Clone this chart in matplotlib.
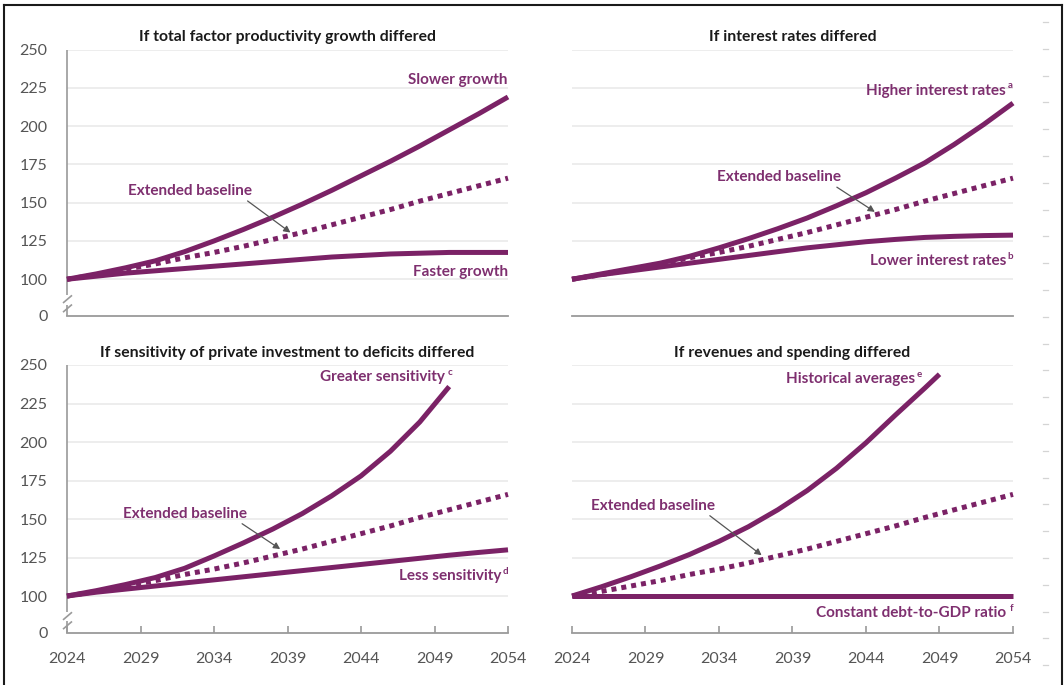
import numpy as np
import matplotlib
matplotlib.use("Agg")
import matplotlib.pyplot as plt
from matplotlib.lines import Line2D

plt.rcParams['font.family'] = ['Lato', 'DejaVu Sans']

# ---------------- data (index, 2024 = 100) ----------------
years_even = [2024, 2026, 2028, 2030, 2032, 2034, 2036, 2038, 2040,
              2042, 2044, 2046, 2048, 2050, 2052, 2054]

extended_baseline = [100, 103, 106.5, 110, 114, 117.5, 121.5, 126, 130.5,
                     135.5, 140.5, 145.5, 151, 156, 161, 166]

# total factor productivity
tfp_slower = [100, 103.5, 107.5, 112, 118, 125, 132.5, 140.5, 149,
              158, 167.5, 177, 187, 197.5, 208, 219]
tfp_faster = [100, 102, 104, 105.5, 107, 108.5, 110, 111.5, 113,
              114.5, 115.5, 116.5, 117, 117.5, 117.5, 117.5]

# interest rates
rate_higher = [100, 103.5, 107, 110.5, 115, 120.5, 126.5, 133, 140,
               148, 156.5, 166, 176, 188, 201, 215]
rate_lower = [100, 103, 105.5, 108, 110.5, 113, 115.5, 118, 120.5,
              122.5, 124.5, 126, 127.3, 128, 128.5, 128.8]

# sensitivity of private investment to deficits
sens_years = [2024, 2026, 2028, 2030, 2032, 2034, 2036, 2038, 2040,
              2042, 2044, 2046, 2048, 2050]
sens_greater = [100, 103.5, 107.5, 112, 118, 126, 134.5, 143.5, 153.5,
                165, 178, 194, 213, 236]
sens_less = [100, 102.5, 104.5, 106.5, 108.5, 110.5, 112.5, 114.5, 116.5,
             118.5, 120.5, 122.5, 124.5, 126.5, 128.3, 130]

# revenues and spending
hist_years = [2024, 2026, 2028, 2030, 2032, 2034, 2036, 2038, 2040,
              2042, 2044, 2046, 2048, 2049]
hist_averages = [100, 106, 112.5, 119.5, 127, 135.5, 145, 156, 168.5,
                 183, 199.5, 217.5, 235, 244]
const_ratio = [100] * len(years_even)

x_ticks = [2024, 2029, 2034, 2039, 2044, 2049, 2054]
y_ticks = [100, 125, 150, 175, 200, 225, 250]
y_zero_pos = 76   # where the "0" tick sits below the axis break

# ---------------- styling ----------------
PURPLE = '#7B2266'
LABEL = '#7E2F6F'
GRID = '#e8e8e8'
AXIS = '#9a9a9a'
TICKTXT = '#555555'
LW = 3.6

W, H = 1064, 685
fig = plt.figure(figsize=(W / 100, H / 100), dpi=100)


def px_axes(x0, y_top, x1, y_bot):
    return fig.add_axes([x0 / W, 1 - y_bot / H, (x1 - x0) / W, (y_bot - y_top) / H])


def setup(ax, title, left_labels, bottom_labels):
    ax.set_xlim(2024, 2054)
    ax.set_ylim(y_zero_pos, 250)
    for s in ['top', 'right', 'left']:
        ax.spines[s].set_visible(False)
    ax.spines['bottom'].set_color(AXIS)
    ax.spines['bottom'].set_linewidth(1.3)
    for v in y_ticks:
        ax.axhline(v, color=GRID, lw=1.1, zorder=0)
    ax.set_yticks([y_zero_pos] + y_ticks)
    ax.set_yticklabels(['0'] + [str(v) for v in y_ticks])
    ax.tick_params(axis='y', length=0, pad=14, labelsize=11.5, labelcolor=TICKTXT,
                   labelleft=left_labels)
    ax.set_xticks(x_ticks)
    ax.set_xticklabels([str(v) for v in x_ticks])
    if bottom_labels:
        ax.tick_params(axis='x', direction='in', length=5, width=1.2, color=AXIS,
                       pad=14, labelsize=11.5, labelcolor=TICKTXT)
    else:
        ax.tick_params(axis='x', length=0, labelbottom=False)
    ax.set_title(title, fontsize=11.3, fontweight='bold', color='#1a1a1a', pad=6)
    if left_labels:
        # broken left axis
        tr = ax.get_yaxis_transform()
        kw = dict(transform=tr, color=AXIS, lw=1.2, clip_on=False, solid_capstyle='butt')
        dx = 1 / 441
        ax.add_line(Line2D([0, 0], [250, 89.5], **kw))
        ax.add_line(Line2D([-4 * dx, 5 * dx], [84.5, 89.5], **kw))
        ax.add_line(Line2D([-4 * dx, 5 * dx], [78.5, 83.5], **kw))
        ax.add_line(Line2D([0, 0], [83.5, y_zero_pos], **kw))


def solid(ax, x, y):
    ax.plot(x, y, color=PURPLE, lw=LW, solid_capstyle='butt',
            solid_joinstyle='round', zorder=3, clip_on=False)


def dotted(ax, x, y):
    ax.plot(x, y, color=PURPLE, lw=LW, linestyle=(0, (1, 1)),
            dash_capstyle='butt', zorder=3, clip_on=False)


def label(ax, x, y, text, sup=None):
    kw = dict(fontsize=11, fontweight='bold', color=LABEL, va='center', ha='right')
    if sup:
        ax.annotate(sup, (x, y), xytext=(0, 3.5), textcoords='offset points',
                    fontsize=7, fontweight='bold', color=LABEL, va='center', ha='right')
        ax.annotate(text, (x, y), xytext=(-5, 0), textcoords='offset points', **kw)
    else:
        ax.text(x, y, text, **kw)


def baseline_note(ax, text_xy, tip_xy):
    ax.annotate('Extended baseline', xy=tip_xy, xytext=text_xy,
                fontsize=11, fontweight='bold', color=LABEL, ha='center', va='center',
                arrowprops=dict(arrowstyle='-|>,head_length=0.35,head_width=0.18',
                                color='#555555', lw=0.9, relpos=(0.93, 0.0),
                                shrinkA=0, shrinkB=0),
                zorder=5)


ax1 = px_axes(67, 49.5, 508, 316)
ax2 = px_axes(572, 49.5, 1013, 316)
ax3 = px_axes(67, 365, 508, 633)
ax4 = px_axes(572, 365, 1013, 633)

setup(ax1, 'If total factor productivity growth differed', True, False)
setup(ax2, 'If interest rates differed', False, False)
setup(ax3, 'If sensitivity of private investment to deficits differed', True, True)
setup(ax4, 'If revenues and spending differed', False, True)

# panel 1
dotted(ax1, years_even, extended_baseline)
solid(ax1, years_even, tfp_faster)
solid(ax1, years_even, tfp_slower)
label(ax1, 2054, 230, 'Slower growth')
label(ax1, 2054, 105, 'Faster growth')
baseline_note(ax1, (2032.4, 157.5), (2039.2, 130.5))

# panel 2
dotted(ax2, years_even, extended_baseline)
solid(ax2, years_even, rate_lower)
solid(ax2, years_even, rate_higher)
label(ax2, 2054, 223, 'Higher interest rates', 'a')
label(ax2, 2054, 112, 'Lower interest rates', 'b')
baseline_note(ax2, (2038.1, 166.5), (2044.6, 144))

# panel 3
dotted(ax3, years_even, extended_baseline)
solid(ax3, years_even, sens_less)
solid(ax3, sens_years, sens_greater)
label(ax3, 2050.2, 242, 'Greater sensitivity', 'c')
label(ax3, 2054, 113, 'Less sensitivity', 'd')
baseline_note(ax3, (2032, 153.3), (2038.5, 130.5))

# panel 4
dotted(ax4, years_even, extended_baseline)
solid(ax4, years_even, const_ratio)
solid(ax4, hist_years, hist_averages)
label(ax4, 2047.8, 241, 'Historical averages', 'e')
label(ax4, 2054, 89, 'Constant debt-to-GDP ratio', 'f')
baseline_note(ax4, (2029.5, 158.5), (2036.9, 126.5))


# outer frame and faint edge marks
def fig_line(xs, ys, **kw):
    fig.add_artist(Line2D([x / W for x in xs], [1 - y / H for y in ys],
                          transform=fig.transFigure, **kw))


fig_line([4, 1062], [5, 5], color='#1a1a1a', lw=1.5)
fig_line([4, 4], [5, 685], color='#1a1a1a', lw=1.5)
fig_line([1062, 1062], [5, 685], color='#1a1a1a', lw=1.5)
for yy in np.arange(22, 680, 26.8):
    fig_line([1043, 1048], [yy, yy], color='#d4d4d4', lw=0.9)

fig.savefig('out.png', dpi=100)
